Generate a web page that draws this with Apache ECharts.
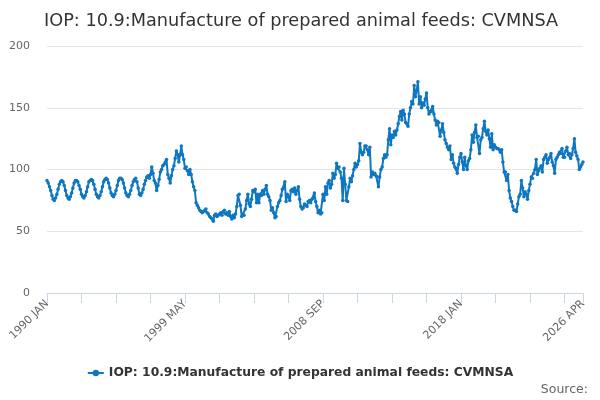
<!DOCTYPE html>
<html>
<head>
<meta charset="utf-8">
<script src="https://cdn.jsdelivr.net/npm/echarts@6/dist/echarts.min.js"></script>
<style>
  html, body { margin: 0; padding: 0; background: #fff; }
  #chart { width: 600px; height: 400px; }
</style>
</head>
<body>
<div id="chart"></div>
<script>
// monthly index values (1990 JAN .. 2026 APR)
var values1990s = [
  91, 89, 86, 83, 79, 76, 75, 77, 80, 84, 88, 90,
  91, 90, 87, 83, 79, 77, 76, 78, 81, 85, 89, 91,
  91, 90, 87, 84, 80, 78, 77, 79, 82, 86, 90, 91,
  92, 91, 88, 84, 80, 78, 77, 79, 82, 86, 90, 92,
  93, 92, 89, 85, 81, 79, 78, 80, 83, 87, 91, 93,
  93, 92, 89, 85, 81, 79, 78, 80, 83, 87, 90, 92,
  93, 90, 85, 80, 79, 81, 84, 88, 91, 94, 95, 93,
  96, 102, 97, 91, 89, 83, 87, 92, 98, 100, 103, 104,
  106, 108, 96, 93, 89, 95, 100, 103, 109, 115, 112, 106,
  112, 119, 112, 108, 101, 102, 99, 96, 100, 96, 90, 86
];
var values2000s = [
  83, 73, 71, 69, 67, 66, 65, 66, 67, 68, 65, 64,
  62, 61, 60, 58, 63, 64, 62, 63, 64, 65, 63, 66,
  67, 64, 65, 63, 66, 62, 60, 63, 61, 64, 70, 79,
  80, 71, 62, 64, 63, 68, 75, 80, 72, 70, 76, 83,
  82, 84, 73, 80, 73, 80, 79, 83, 80, 84, 87, 80,
  78, 75, 67, 69, 65, 61, 62, 70, 73, 75, 79, 84,
  85, 90, 74, 80, 78, 75, 83, 84, 82, 85, 80, 83,
  86, 76, 70, 68, 69, 72, 71, 70, 74, 75, 73, 76,
  77, 81, 74, 70, 65, 67, 64, 65, 80, 75, 86, 80,
  89, 91, 85, 88, 97, 93, 96, 105, 101, 102, 98, 93
];
var values2010s = [
  75, 101, 88, 75, 74, 86, 93, 90, 95, 100, 105, 102,
  104, 107, 121, 114, 112, 114, 119, 119, 116, 112, 118, 94,
  98, 96, 97, 95, 94, 86, 94, 100, 102, 109, 112, 110,
  112, 124, 133, 120, 128, 126, 131, 128, 132, 137, 143, 147,
  140, 148, 145, 138, 137, 135, 145, 150, 155, 153, 168, 159,
  164, 171, 153, 159, 150, 154, 152, 157, 162, 150, 145, 147,
  147, 151, 145, 140, 136, 139, 138, 127, 132, 137, 130, 124,
  121, 118, 116, 119, 108, 112, 105, 102, 101, 97, 104, 110,
  113, 106, 100, 110, 103, 100, 107, 109, 116, 128, 122, 130,
  136, 126, 127, 113, 124, 126, 133, 139, 131, 128, 132, 125
];
var values2020s = [
  118, 129, 116, 120, 118, 117, 117, 116, 114, 116, 106, 98,
  98, 91, 96, 83, 77, 74, 70, 67, 67, 66, 72, 78,
  80, 91, 85, 78, 82, 80, 76, 83, 88, 94, 93, 97,
  100, 108, 96, 99, 101, 103, 98, 108, 110, 112, 105, 108,
  110, 113, 106, 103, 97, 108, 110, 112, 114, 113, 117, 110,
  110, 115, 118, 112, 113, 109, 112, 117, 125, 114, 111, 108,
  100, 102, 104, 106
];
var monthNames = ['JAN', 'FEB', 'MAR', 'APR', 'MAY', 'JUN', 'JUL', 'AUG', 'SEP', 'OCT', 'NOV', 'DEC'];
var seriesName = 'IOP: 10.9:Manufacture of prepared animal feeds: CVMNSA';

var values = values1990s.concat(values2000s, values2010s, values2020s);

// category labels "1990 JAN" ...
var categories = [];
for (var i = 0; i < values.length; i++) {
  categories.push((1990 + Math.floor(i / 12)) + ' ' + monthNames[i % 12]);
}
var lastIdx = categories.length - 1;

var chart = echarts.init(document.getElementById('chart'));

var option = {
  animation: false,
  title: {
    text: 'IOP: 10.9:Manufacture of prepared animal feeds: CVMNSA',
    left: 39,
    top: 7,
    textStyle: {
      fontFamily: 'DejaVu Sans',
      fontSize: 17.7,
      fontWeight: 'normal',
      color: '#333333'
    }
  },
  legend: {
    bottom: 16,
    left: 'center',
    itemWidth: 16,
    itemHeight: 8,
    data: [seriesName],
    textStyle: {
      fontFamily: 'DejaVu Sans',
      fontSize: 12.3,
      fontWeight: 'bold',
      color: '#333333'
    }
  },
  graphic: [{
    type: 'text',
    right: 12,
    bottom: 4,
    style: {
      text: 'Source:',
      font: '12.5px "DejaVu Sans"',
      fill: '#666666'
    }
  }],
  grid: {
    left: 47,
    right: 17,
    top: 46,
    bottom: 107
  },
  xAxis: {
    type: 'category',
    data: categories,
    boundaryGap: false,
    axisLine: { lineStyle: { color: '#ccd6eb' } },
    axisTick: {
      length: 10,
      lineStyle: { color: '#ccd6eb' },
      interval: function (idx) { return idx % 28 === 0 || idx === lastIdx; }
    },
    axisLabel: {
      rotate: 45,
      margin: 9,
      fontFamily: 'DejaVu Sans',
      fontSize: 11,
      color: '#666666',
      showMaxLabel: true,
      interval: function (idx) { return idx % 112 === 0 || idx === lastIdx; }
    },
    splitLine: { show: false }
  },
  yAxis: {
    type: 'value',
    min: 0,
    max: 200,
    interval: 50,
    axisLine: { show: false },
    axisTick: { show: false },
    axisLabel: {
      margin: 17,
      fontFamily: 'DejaVu Sans',
      fontSize: 11,
      color: '#666666'
    },
    splitLine: { lineStyle: { color: '#e6e6e6' } }
  },
  series: [{
    name: seriesName,
    type: 'line',
    data: values,
    showAllSymbol: true,
    symbol: 'circle',
    symbolSize: 3.5,
    lineStyle: { width: 2, color: '#0f77c0' },
    itemStyle: { color: '#0f77c0' }
  }]
};

chart.setOption(option);
</script>
</body>
</html>
